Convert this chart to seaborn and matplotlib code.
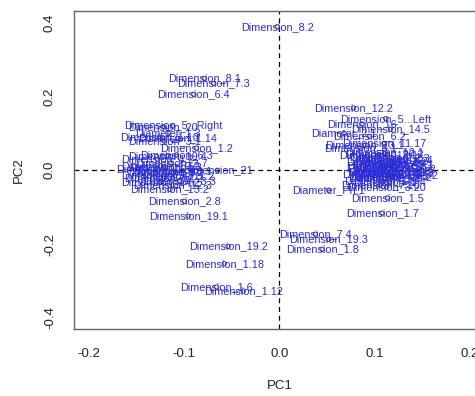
import pandas as pd
import seaborn as sns
import matplotlib
matplotlib.use("Agg")
import matplotlib.pyplot as plt

# PCA scores (PC1, PC2), one label per point
labels_left = ["Dimension_8.1", "Dimension_7.3", "Dimension_6.4", "Dimension_5...Right",
               "Dimension_20", "Diameter_1.3", "Dimension_1.10", "Dimension_1.14",
               "Dimension_3.1", "Dimension_1.2", "Dimension_19.4", "Dimension_6.3",
               "Dimension_4.2", "Dimension_2.7", "Dimension_10.2", "Dimension_21",
               "Dimension_15.1", "Dimension_2.2", "Dimension_9.3", "Dimension_11.2",
               "Dimension_17.2", "Dimension_3.3", "Dimension_14.2", "Dimension_12.3",
               "Dimension_13.2", "Dimension_2.8", "Dimension_19.1", "Dimension_4.3",
               "Dimension_10.1"]
pc1_left = [-0.079, -0.069, -0.090, -0.112, -0.122, -0.117, -0.126, -0.107,
            -0.121, -0.087, -0.118, -0.108, -0.128, -0.114, -0.125, -0.065,
            -0.130, -0.118, -0.128, -0.110, -0.122, -0.105, -0.125, -0.112,
            -0.115, -0.100, -0.096, -0.120, -0.112]
pc2_left = [0.249, 0.235, 0.206, 0.120, 0.118, 0.102, 0.090, 0.086,
            0.080, 0.060, 0.039, 0.042, 0.030, 0.020, 0.012, 0.000,
            0.003, -0.005, -0.012, -0.015, -0.022, -0.028, -0.033, -0.040,
            -0.052, -0.084, -0.124, 0.008, -0.002]

labels_mid = ["Dimension_8.2", "Dimension_19.2", "Dimension_1.18", "Dimension_1.6",
              "Dimension_1.12", "Dimension_7.4", "Dimension_19.3", "Dimension_1.8"]
pc1_mid = [-0.002, -0.054, -0.058, -0.066, -0.038, 0.038, 0.052, 0.045]
pc2_mid = [0.389, -0.206, -0.253, -0.316, -0.327, -0.173, -0.187, -0.214]

labels_right = ["Dimension_12.2", "Dimension_5...Left", "Dimension_16", "Diameter_2.1",
                "Dimension_14.5", "Dimension_6.2", "Dimension_11.17", "Dimension_13.1",
                "Dimension_6.1", "Dimension_12.1", "Dimension_18.1", "Dimension_2.1",
                "Dimension_2.3", "Dimension_3.2", "Dimension_4.1", "Dimension_5.1",
                "Dimension_7.2", "Dimension_8.3", "Dimension_9.1", "Dimension_9.2",
                "Dimension_10.3", "Dimension_11.1", "Dimension_13.3", "Dimension_14.1",
                "Dimension_15.2", "Dimension_17.1", "Dimension_18.2", "Dimension_20.2",
                "Dimension_1.1", "Dimension_1.3", "Dimension_1.4", "Dimension_7.10",
                "Dimension_3.20", "Diameter_Ph.1", "Dimension_1.5", "Dimension_1.7",
                "Dimension_2.4", "Dimension_4.4", "Dimension_6.5", "Dimension_11.3"]
pc1_right = [0.078, 0.112, 0.087, 0.068, 0.117, 0.095, 0.110, 0.090,
             0.085, 0.111, 0.104, 0.112, 0.120, 0.118, 0.108, 0.124,
             0.115, 0.122, 0.110, 0.126, 0.118, 0.113, 0.121, 0.107,
             0.125, 0.116, 0.119, 0.111, 0.111, 0.106, 0.116, 0.106,
             0.113, 0.052, 0.114, 0.108, 0.123, 0.117, 0.109, 0.121]
pc2_right = [0.169, 0.140, 0.125, 0.100, 0.111, 0.092, 0.073, 0.068,
             0.060, 0.049, 0.040, 0.036, 0.032, 0.026, 0.022, 0.018,
             0.014, 0.010, 0.006, 0.003, -0.001, -0.004, -0.008, -0.011,
             -0.013, -0.016, -0.019, 0.044, -0.022, -0.028, -0.032, -0.040,
             -0.045, -0.054, -0.075, -0.116, 0.028, 0.020, 0.012, -0.006]

df = pd.DataFrame({
    "label": labels_left + labels_mid + labels_right,
    "PC1": pc1_left + pc1_mid + pc1_right,
    "PC2": pc2_left + pc2_mid + pc2_right,
})

sns.set_style("white")
plt.rcParams["font.family"] = ["Liberation Sans", "DejaVu Sans"]

fig = plt.figure(figsize=(4.75, 3.96), dpi=100)
ax = fig.add_axes([0.1558, 0.1692, 0.8646, 0.8038])

ax.axhline(0, color="black", ls=(0, (4, 3)), lw=0.9, zorder=1)
ax.axvline(0, color="black", ls=(0, (4, 3)), lw=0.9, zorder=1)

sns.scatterplot(data=df, x="PC1", y="PC2", ax=ax, marker="o", s=10,
                facecolor="none", edgecolor="#333333", linewidth=0.6, zorder=2)

for lab, x, y in zip(df["label"], df["PC1"], df["PC2"]):
    ax.text(x, y, lab, color="#2a2ad8", fontsize=7.8, ha="center", va="center",
            zorder=3)

ax.set_xlim(-0.216, 0.216)
ax.set_ylim(-0.43, 0.4325)
ax.set_xticks([-0.2, -0.1, 0.0, 0.1, 0.2])
ax.set_yticks([-0.4, -0.2, 0.0, 0.2, 0.4])
ax.set_xticklabels(["-0.2", "-0.1", "0.0", "0.1", "0.2"])
ax.set_yticklabels(["-0.4", "-0.2", "0.0", "0.2", "0.4"], rotation=90, va="center")
ax.tick_params(axis="both", direction="out", length=5, width=0.8, color="#333333",
               labelsize=9.5, labelcolor="#222222")
ax.tick_params(axis="x", pad=9)
ax.tick_params(axis="y", pad=8)
ax.set_xlabel("PC1", fontsize=9.5, color="#222222", labelpad=14)
ax.set_ylabel("PC2", fontsize=9.5, color="#222222", labelpad=14)
for sp in ax.spines.values():
    sp.set_color("#666666")
    sp.set_linewidth(1.0)
if ax.get_legend():
    ax.get_legend().remove()

fig.savefig("out.png", dpi=100)
